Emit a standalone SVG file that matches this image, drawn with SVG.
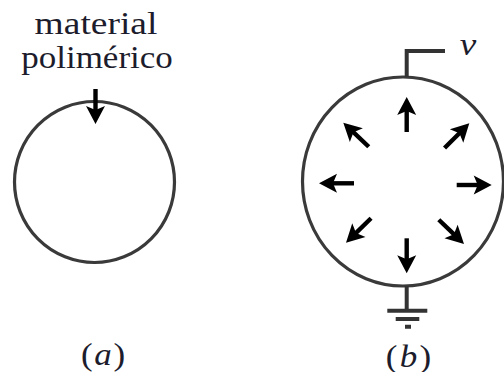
<svg xmlns="http://www.w3.org/2000/svg" width="504" height="372" viewBox="0 0 504 372">
<defs>
<g id="arrow"><path d="M-35 0H-8" fill="none" stroke="#000" stroke-width="4.400"/><path d="M0 0L-18 -9.500L-14 0L-18 9.500Z" fill="#000"/></g>
</defs>
<style>
.c{fill:none;stroke:#3a3a3a;stroke-width:3.200}
.w{fill:none;stroke:#333;stroke-width:4}
.t{font-family:"Liberation Serif",serif;font-size:31px;fill:#1c1c2c;text-anchor:middle}
.i{font-style:italic}
</style>
<rect width="504" height="372" fill="#fff"/>
<g id="node-a"><ellipse class="c" cx="94.500" cy="182" rx="80" ry="80.500"/></g>
<g id="node-b"><ellipse class="c" cx="403" cy="181.500" rx="100.500" ry="104.500"/></g>
<g id="connectors">
<path class="w" d="M406.700 77V51H445"/>
<path class="w" d="M406.700 286V310"/>
<path class="w" d="M387.300 310.700H427.300M395.700 319H419.300M405 326.700H411"/>
<use href="#arrow" transform="translate(95.500 124) rotate(90)"/>
<use href="#arrow" transform="translate(406.700 97) rotate(-90)"/>
<use href="#arrow" transform="translate(406.700 273.300) rotate(90)"/>
<use href="#arrow" transform="translate(319 183.300) rotate(180)"/>
<use href="#arrow" transform="translate(491.700 185)"/>
<use href="#arrow" transform="translate(343.300 122.700) rotate(-136.600)"/>
<use href="#arrow" transform="translate(469.300 123.300) rotate(-45)"/>
<use href="#arrow" transform="translate(346 242.700) rotate(135.700)"/>
<use href="#arrow" transform="translate(464 244) rotate(43.900)"/>
</g>
<g id="labels">
<text class="t" transform="translate(96 34) scale(1.210 1)">material</text>
<text class="t" transform="translate(97 68) scale(1.130 1)">polimérico</text>
<text class="t i" transform="translate(468 55) scale(1.200 1)">v</text>
<text class="t" transform="translate(103 365) scale(1.130 1)">(<tspan class="i" dx="1.500">a</tspan><tspan dx="1.500">)</tspan></text>
<text class="t" transform="translate(408.500 366.500) scale(1.130 1)">(<tspan class="i" dx="2">b</tspan><tspan dx="2">)</tspan></text>
</g>
</svg>
